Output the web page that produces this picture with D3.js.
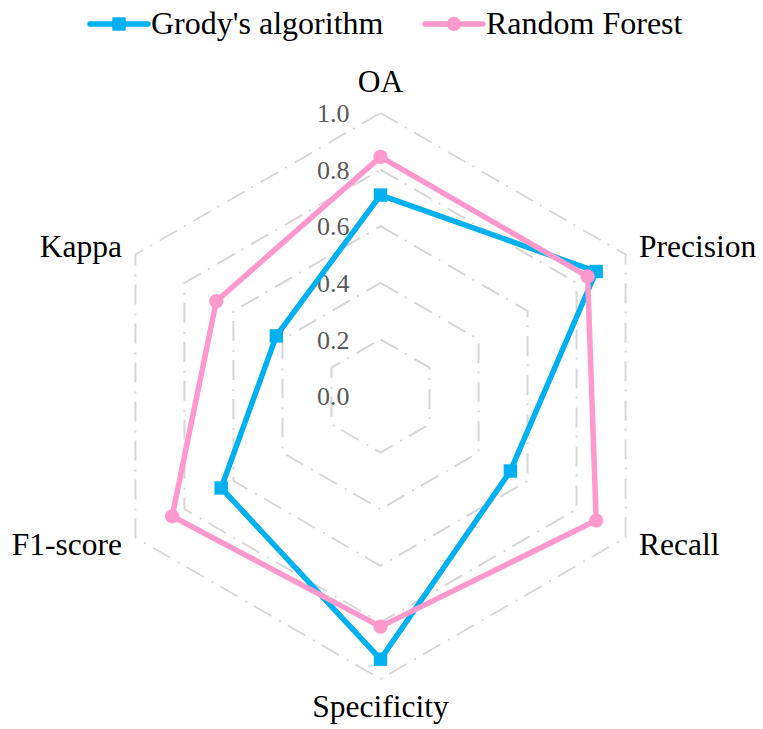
<!DOCTYPE html>
<meta charset="utf-8">
<style>
body { margin: 0; background: #fff; }
svg text { font-family: "Liberation Serif", Tinos, "Times New Roman", "DejaVu Serif", serif; }
.grid path { fill: none; stroke: #d6d6d6; stroke-width: 2; stroke-dasharray: 20,8,2,9; }
.tick-label { font-size: 26px; fill: #595959; }
.axis-label { font-size: 31.5px; fill: #000; }
.legend text { font-size: 32px; fill: #000; }
</style>
<svg width="763" height="729"></svg>
<script src="https://d3js.org/d3.v7.min.js"></script>
<script>

// axes go clockwise from the top
var axes = ["OA", "Precision", "Recall", "Specificity", "F1-score", "Kappa"];
var grody = [0.71, 0.88, 0.53, 0.93, 0.65, 0.425];
var forest = [0.845, 0.845, 0.88, 0.815, 0.85, 0.67];
var ticks = [0.0, 0.2, 0.4, 0.6, 0.8, 1.0];

var series = [
  {name: "Grody's algorithm", values: grody, color: "#00b0f0", marker: "square"},
  {name: "Random Forest", values: forest, color: "#ff99cc", marker: "circle"}
];

var svg = d3.select("svg"),
    cx = 380.5, cy = 396, R = 283;

var r = d3.scaleLinear().domain([0, 1]).range([0, R]);
var angle = d3.scalePoint().domain(axes).range([0, 2 * Math.PI * 5 / 6]);

function pt(axis, v) {
  var a = angle(axis);
  return [cx + r(v) * Math.sin(a), cy - r(v) * Math.cos(a)];
}

// hexagon grid (no ring at 0), drawn from the top vertex
var grid = svg.append("g").attr("class", "grid");
ticks.filter(function(t) { return t > 0; }).forEach(function(t) {
  grid.append("path")
      .attr("d", d3.line()(axes.map(function(a) { return pt(a, t); })) + "Z");
});

// tick labels along the OA axis, to its left
svg.append("g").selectAll("text")
    .data(ticks)
  .enter().append("text")
    .attr("class", "tick-label")
    .attr("x", cx - 31)
    .attr("y", function(d) { return cy - r(d); })
    .attr("dy", "0.35em")
    .attr("text-anchor", "end")
    .text(function(d) { return d3.format(".1f")(d); });

// axis labels
svg.append("g").selectAll("text")
    .data(axes)
  .enter().append("text")
    .attr("class", "axis-label")
    .each(function(d) {
      var p = pt(d, 1.055), s = Math.sin(angle(d)), c = Math.cos(angle(d));
      var el = d3.select(this);
      if (Math.abs(s) < 0.01) {
        el.attr("text-anchor", "middle")
          .attr("x", p[0])
          .attr("y", c > 0 ? p[1] - 5 : p[1] + 22);
      } else {
        el.attr("text-anchor", s > 0 ? "start" : "end")
          .attr("x", p[0])
          .attr("y", p[1] + 10);
      }
    })
    .text(function(d) { return d; });

// series lines + markers
var line = d3.line();
function marker(s) {
  return d3.symbol(s.marker == "square" ? d3.symbolSquare : d3.symbolCircle, s.marker == "square" ? 180 : 160)();
}
series.forEach(function(s) {
  var pts = axes.map(function(a, i) { return pt(a, s.values[i]); });
  var g = svg.append("g");
  g.append("path")
      .attr("d", line(pts) + "Z")
      .attr("fill", "none")
      .attr("stroke", s.color)
      .attr("stroke-width", 5.5)
      .attr("stroke-linejoin", "round");
  g.selectAll(".m").data(pts).enter().append("path")
      .attr("transform", function(d) { return "translate(" + d + ")"; })
      .attr("d", marker(s))
      .attr("fill", s.color);
});

// legend
var legend = svg.append("g").attr("class", "legend");
var legendX = [90, 425];
series.forEach(function(s, i) {
  var g = legend.append("g").attr("transform", "translate(" + legendX[i] + ",24)");
  g.append("line")
      .attr("x1", 0).attr("x2", 58)
      .attr("stroke", s.color)
      .attr("stroke-width", 5.5)
      .attr("stroke-linecap", "round");
  g.append("path")
      .attr("transform", "translate(29,0)")
      .attr("d", marker(s))
      .attr("fill", s.color);
  g.append("text")
      .attr("x", 61)
      .attr("y", 10)
      .text(s.name);
});

</script>
